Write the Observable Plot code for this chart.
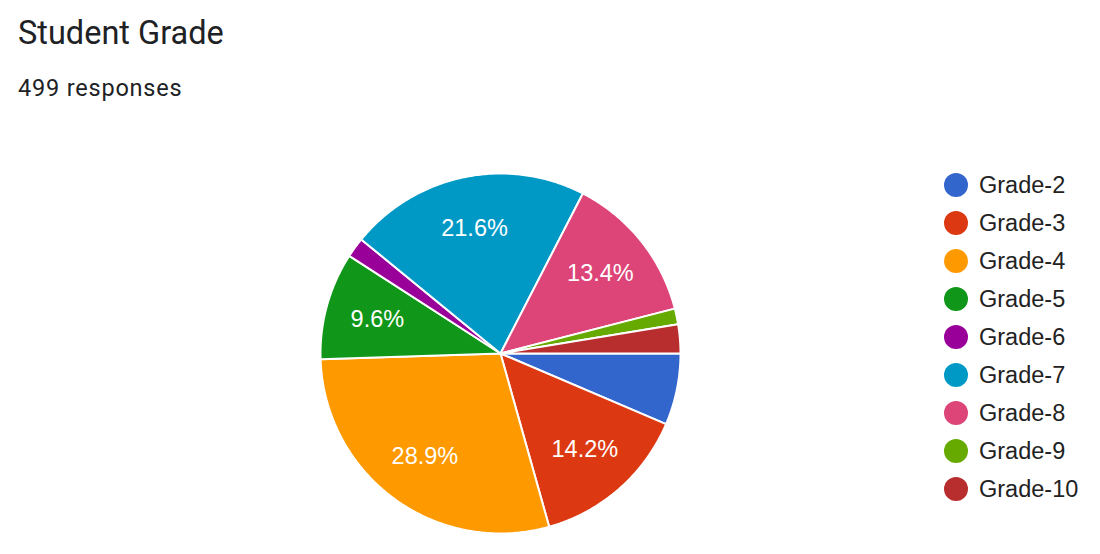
<!DOCTYPE html>
<html>
<head>
<meta charset="utf-8">
<script src="https://cdn.jsdelivr.net/npm/d3@7"></script>
<script src="https://cdn.jsdelivr.net/npm/@observablehq/plot@0.6"></script>
<style>
  html, body { margin: 0; padding: 0; background: #fff; }
  #wrap { position: relative; width: 1100px; height: 554px; overflow: hidden; }
  #wrap svg { position: absolute; left: 0; top: 0; }
  .title { position: absolute; left: 18px; top: 14px; font-family: Roboto, sans-serif; font-size: 32.5px; color: #202124; white-space: nowrap; }
  .sub { position: absolute; left: 18px; top: 74px; font-family: Roboto, sans-serif; font-size: 23.5px; letter-spacing: 0.8px; color: #202124; white-space: nowrap; }
  .legend { position: absolute; left: 944px; top: 166px; font-family: "Liberation Sans", Arial, sans-serif; font-size: 23.5px; color: #222; }
  .legend .item { display: flex; align-items: center; height: 38px; }
  .legend .sw { width: 24px; height: 24px; border-radius: 50%; margin-right: 11px; }
</style>
</head>
<body>
<div id="wrap"></div>
<script>
const grades = ["Grade-2","Grade-3","Grade-4","Grade-5","Grade-6","Grade-7","Grade-8","Grade-9","Grade-10"];
const counts = [32, 71, 144, 48, 9, 108, 67, 7, 13];
const colors = ["#3366cc","#dc3912","#ff9900","#109618","#990099","#0099c6","#dd4477","#66aa00","#b82e2e"];
const title = "Student Grade";
const subtitle = "499 responses";

const total = d3.sum(counts);
const arcs = d3.pie().sort(null).startAngle(0).endAngle(2 * Math.PI)(counts);

// polygon points for each slice (angle measured clockwise from east)
const poly = [];
arcs.forEach((a, i) => {
  const g = grades[i];
  poly.push({g, x: 0, y: 0});
  const n = Math.max(2, Math.ceil((a.endAngle - a.startAngle) / 0.01));
  for (let k = 0; k <= n; k++) {
    const t = a.startAngle + (a.endAngle - a.startAngle) * k / n;
    poly.push({g, x: Math.cos(t), y: Math.sin(t)});
  }
  poly.push({g, x: 0, y: 0});
});

const labels = arcs.map((a, i) => {
  const m = (a.startAngle + a.endAngle) / 2;
  const p = counts[i] / total;
  return {g: grades[i], p, x: 0.71 * Math.cos(m), y: 0.71 * Math.sin(m), text: (p * 100).toFixed(1) + "%"};
}).filter(d => d.p >= 0.08);

const chart = Plot.plot({
  width: 1100,
  height: 554,
  margin: 0,
  x: {domain: [-1, 1], range: [320, 680], axis: null},
  y: {domain: [-1, 1], range: [173, 533], axis: null},
  color: {domain: grades, range: colors},
  marks: [
    Plot.line(poly, {x: "x", y: "y", z: "g", fill: "g", stroke: "white", strokeWidth: 2, strokeLinejoin: "round", curve: "linear"}),
    Plot.text(labels, {x: "x", y: "y", text: "text", fill: "white", fontSize: 23.5, fontFamily: "'Liberation Sans', Arial, sans-serif"})
  ]
});

const wrap = document.getElementById("wrap");
wrap.appendChild(chart);
const t = document.createElement("div"); t.className = "title"; t.textContent = title; wrap.appendChild(t);
const s = document.createElement("div"); s.className = "sub"; s.textContent = subtitle; wrap.appendChild(s);
const lg = document.createElement("div"); lg.className = "legend";
grades.forEach((g, i) => {
  const it = document.createElement("div"); it.className = "item";
  const sw = document.createElement("div"); sw.className = "sw"; sw.style.background = colors[i];
  const tx = document.createElement("span"); tx.textContent = g;
  it.appendChild(sw); it.appendChild(tx); lg.appendChild(it);
});
wrap.appendChild(lg);
</script>
</body>
</html>
